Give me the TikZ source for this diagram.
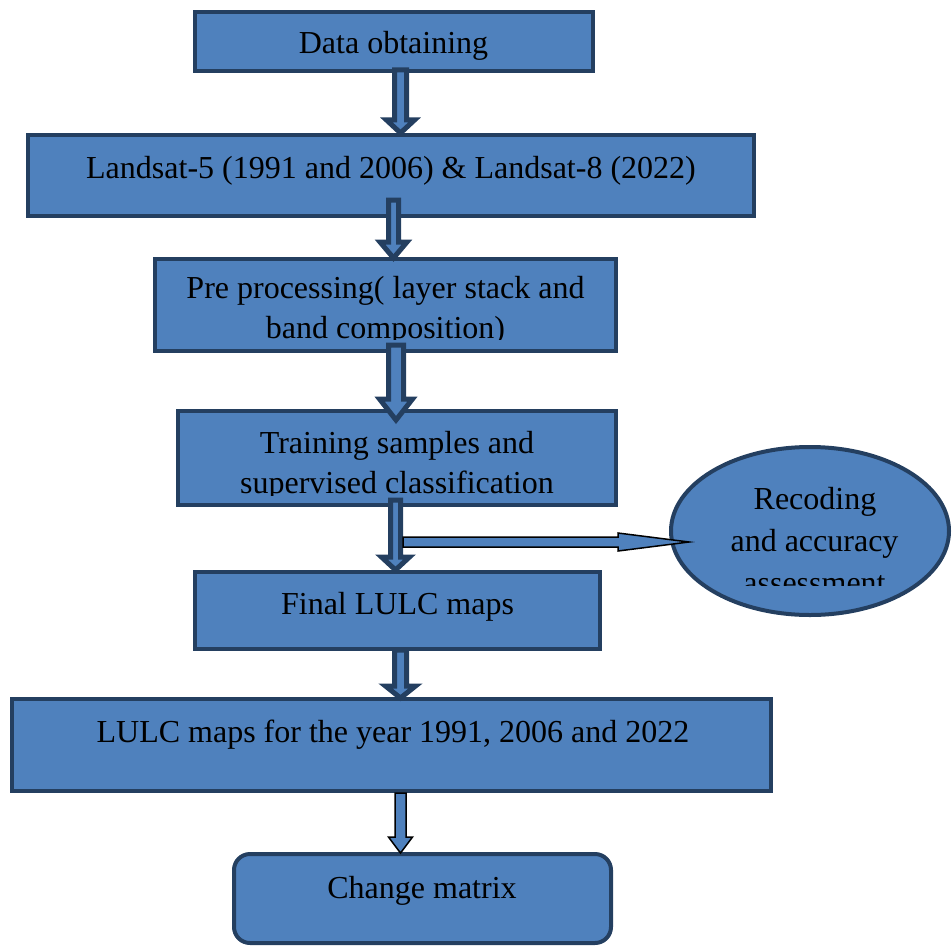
\documentclass[tikz,border=0pt]{standalone}
\usepackage{fontspec}
\setmainfont{Liberation Serif}
\usetikzlibrary{calc,shapes.geometric}
\definecolor{boxblue}{HTML}{4F81BD}
\definecolor{boxedge}{HTML}{243F60}
\tikzset{
  box/.style={rectangle, draw=boxedge, fill=boxblue, line width=4pt, inner sep=0pt},
  oval/.style={ellipse, draw=boxedge, fill=boxblue, line width=4pt, inner sep=0pt},
  txt/.style={anchor=base, inner sep=0pt, font=\fontsize{32}{38}\selectfont, text=black},
  darrow/.style={draw=boxedge, fill=boxblue, line width=5pt, line join=miter},
  karrow/.style={draw=black, fill=boxblue, line width=1.5pt, line join=miter}
}
% #1 style, #2 from, #3 to, #4 x, #5 start offset, #6 half shaft, #7 half head, #8 head length, #9 tip offset
\newcommand\barr[9]{%
  \draw[#1] let \p1=(#2.south), \p2=(#3.north) in
    (#4pt-#6pt,\y1+#5pt) -- (#4pt-#6pt,\y2-#9pt+#8pt) -- (#4pt-#7pt,\y2-#9pt+#8pt)
    -- (#4pt,\y2-#9pt) -- (#4pt+#7pt,\y2-#9pt+#8pt) -- (#4pt+#6pt,\y2-#9pt+#8pt)
    -- (#4pt+#6pt,\y1+#5pt) -- cycle;}
\begin{document}
\begin{tikzpicture}[x=1pt,y=-1pt]
\useasboundingbox (0,0) rectangle (952,947);
% boxes
\node[box, minimum width=398pt, minimum height=59pt] (b1) at (394,41.5) {};
\node[box, minimum width=726pt, minimum height=81pt] (b2) at (391,175.5) {};
\node[box, minimum width=461pt, minimum height=92pt] (b3) at (385.5,305) {};
\node[box, minimum width=438pt, minimum height=94pt] (b4) at (397,458) {};
\node[box, minimum width=405pt, minimum height=77pt] (b5) at (397.5,610.5) {};
\node[box, minimum width=759pt, minimum height=92pt] (b6) at (391.5,745) {};
\node[box, rounded corners=16pt, minimum width=377pt, minimum height=89pt] (b7) at (422.5,898.5) {};
\node[oval, minimum width=278pt, minimum height=168pt] (rec) at (810,531) {};
% texts
\node[txt] (t1) at (393.5,54) {Data obtaining};
\node[txt] (t2) at (391,178) {Landsat-5 (1991 and 2006) \& Landsat-8 (2022)};
\begin{scope}
  \clip (153,257) rectangle (618,339);
  \node[txt] (t3a) at (385.5,298) {Pre processing( layer stack and};
  \node[txt] (t3b) at (385.5,338) {band composition)};
\end{scope}
\begin{scope}
  \clip (176,409) rectangle (618,495);
  \node[txt] (t4a) at (397,453) {Training samples and};
  \node[txt] (t4b) at (397,493) {supervised classification};
\end{scope}
\node[txt] (t5) at (397.5,614) {Final LULC maps};
\node[txt] (t6) at (393,742) {LULC maps for the year 1991, 2006 and 2022};
\node[txt] (t7) at (422,898) {Change matrix};
\begin{scope}
  \clip (660,440) rectangle (952,585);
  \node[txt] (t8a) at (815,509) {Recoding};
  \node[txt] (t8b) at (814.5,551) {and accuracy};
  \node[txt] (t8c) at (814.5,593) {assessment};
\end{scope}
% arrows
\barr{darrow}{b1}{b2}{400.5}{3}{6}{14}{13}{0}
\barr{darrow}{b2}{b3}{393.5}{18}{5}{13.5}{16}{1}
\barr{darrow}{b3}{b4}{396}{8}{7.5}{16.5}{21}{11}
\barr{darrow}{b4}{b5}{395.5}{7}{5}{14}{13}{0}
\barr{darrow}{b5}{b6}{400.5}{1}{6}{15}{12}{1}
\barr{karrow}{b6}{b7}{400.5}{0}{5.5}{12}{16}{1}
\coordinate (hs) at (403,542);
\draw[karrow] let \p1=(hs), \p2=(rec.west) in
  (\x1,\y1+5pt) -- (\x2-51pt,\y1+5pt) -- (\x2-51pt,\y1+9pt) -- (\x2+20pt,\y1)
  -- (\x2-51pt,\y1-9pt) -- (\x2-51pt,\y1-5pt) -- (\x1,\y1-5pt) -- cycle;
\end{tikzpicture}
\end{document}
